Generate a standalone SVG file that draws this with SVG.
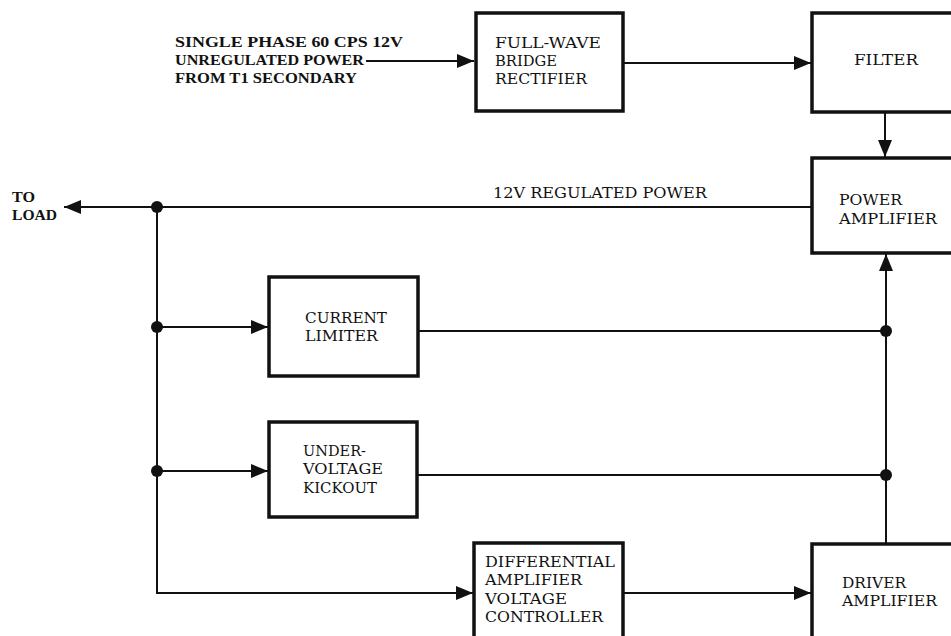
<svg xmlns="http://www.w3.org/2000/svg" width="951" height="636" viewBox="0 0 951 636">
<style>
.box{fill:#fff;stroke:#111;stroke-width:3.5}
.ln{fill:none;stroke:#111;stroke-width:2}
.t{font-family:"DejaVu Serif","Liberation Serif",serif;font-size:15px;fill:#111}
.b{font-family:"Liberation Serif","DejaVu Serif",serif;font-weight:bold;font-size:15px;fill:#111}
.dot{fill:#111}
</style>
<defs>
<marker id="ah" markerUnits="userSpaceOnUse" markerWidth="18" markerHeight="14" refX="17" refY="7" orient="auto">
<path d="M0,0 L17,7 L0,14 Z" fill="#111"/>
</marker>
</defs>
<rect width="951" height="636" fill="#fff"/>
<g id="connectors">
<path class="ln" d="M366,61 H474" marker-end="url(#ah)"/>
<path class="ln" d="M623,63 H811" marker-end="url(#ah)"/>
<path class="ln" d="M885,112 V157" marker-end="url(#ah)"/>
<path class="ln" d="M812,207 H64" marker-end="url(#ah)"/>
<path class="ln" d="M157,207 V593 H473" marker-end="url(#ah)"/>
<path class="ln" d="M157,327 H268" marker-end="url(#ah)"/>
<path class="ln" d="M157,471 H268" marker-end="url(#ah)"/>
<path class="ln" d="M418,331 H886"/>
<path class="ln" d="M417,475 H886"/>
<path class="ln" d="M623,593 H811" marker-end="url(#ah)"/>
<path class="ln" d="M886,544 V254" marker-end="url(#ah)"/>
<circle class="dot" cx="157" cy="207" r="6"/>
<circle class="dot" cx="157" cy="327" r="6"/>
<circle class="dot" cx="157" cy="471" r="6"/>
<circle class="dot" cx="886" cy="331" r="6"/>
<circle class="dot" cx="886" cy="475" r="6"/>
</g>
<g id="input-label">
<text class="b" x="175" y="47" textLength="228" lengthAdjust="spacingAndGlyphs">SINGLE PHASE 60 CPS 12V</text>
<text class="b" x="175" y="65" textLength="189" lengthAdjust="spacingAndGlyphs">UNREGULATED POWER</text>
<text class="b" x="175" y="83" textLength="182" lengthAdjust="spacingAndGlyphs">FROM T1 SECONDARY</text>
</g>
<g id="to-load">
<text class="b" x="12" y="202" textLength="23" lengthAdjust="spacingAndGlyphs">TO</text>
<text class="b" x="12" y="220" textLength="45" lengthAdjust="spacingAndGlyphs">LOAD</text>
</g>
<g id="regulated-label">
<text class="t" x="493" y="198" textLength="214" lengthAdjust="spacingAndGlyphs">12V REGULATED POWER</text>
</g>
<g id="rectifier">
<rect class="box" x="476" y="13" width="147" height="98"/>
<text class="t" x="495" y="48" textLength="106" lengthAdjust="spacingAndGlyphs">FULL-WAVE</text>
<text class="t" x="495" y="66" textLength="62" lengthAdjust="spacingAndGlyphs">BRIDGE</text>
<text class="t" x="495" y="84" textLength="92" lengthAdjust="spacingAndGlyphs">RECTIFIER</text>
</g>
<g id="filter">
<rect class="box" x="812" y="13" width="160" height="99"/>
<text class="t" x="854" y="65" textLength="64" lengthAdjust="spacingAndGlyphs">FILTER</text>
</g>
<g id="power-amplifier">
<rect class="box" x="812" y="158" width="160" height="95"/>
<text class="t" x="839" y="205" textLength="63" lengthAdjust="spacingAndGlyphs">POWER</text>
<text class="t" x="839" y="224" textLength="98" lengthAdjust="spacingAndGlyphs">AMPLIFIER</text>
</g>
<g id="current-limiter">
<rect class="box" x="269" y="277" width="149" height="99"/>
<text class="t" x="305" y="323" textLength="82" lengthAdjust="spacingAndGlyphs">CURRENT</text>
<text class="t" x="305" y="341" textLength="73" lengthAdjust="spacingAndGlyphs">LIMITER</text>
</g>
<g id="undervoltage-kickout">
<rect class="box" x="269" y="422" width="148" height="95"/>
<text class="t" x="303" y="456" textLength="63" lengthAdjust="spacingAndGlyphs">UNDER-</text>
<text class="t" x="303" y="474" textLength="80" lengthAdjust="spacingAndGlyphs">VOLTAGE</text>
<text class="t" x="303" y="493" textLength="74" lengthAdjust="spacingAndGlyphs">KICKOUT</text>
</g>
<g id="differential-amplifier">
<rect class="box" x="474" y="543" width="149" height="120"/>
<text class="t" x="485" y="567" textLength="130" lengthAdjust="spacingAndGlyphs">DIFFERENTIAL</text>
<text class="t" x="485" y="585" textLength="97" lengthAdjust="spacingAndGlyphs">AMPLIFIER</text>
<text class="t" x="485" y="604" textLength="82" lengthAdjust="spacingAndGlyphs">VOLTAGE</text>
<text class="t" x="485" y="622" textLength="118" lengthAdjust="spacingAndGlyphs">CONTROLLER</text>
</g>
<g id="driver-amplifier">
<rect class="box" x="812" y="544" width="160" height="120"/>
<text class="t" x="842" y="588" textLength="64" lengthAdjust="spacingAndGlyphs">DRIVER</text>
<text class="t" x="842" y="606" textLength="95" lengthAdjust="spacingAndGlyphs">AMPLIFIER</text>
</g>
</svg>
